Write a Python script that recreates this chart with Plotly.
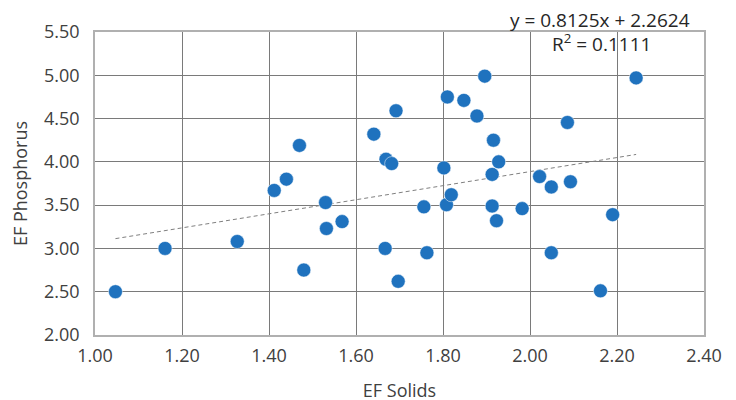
import plotly.graph_objects as go

ef_solids = [1.047, 1.161, 1.327, 1.412, 1.440, 1.470, 1.480, 1.530, 1.532, 1.568,
             1.641, 1.667, 1.669, 1.682, 1.692, 1.697, 1.756, 1.763, 1.802, 1.808,
             1.810, 1.819, 1.848, 1.878, 1.896, 1.913, 1.913, 1.916, 1.923, 1.928,
             1.982, 2.022, 2.049, 2.049, 2.086, 2.093, 2.162, 2.190, 2.244]
ef_phosphorus = [2.50, 3.00, 3.08, 3.67, 3.80, 4.19, 2.75, 3.53, 3.23, 3.31,
                 4.32, 3.00, 4.03, 3.98, 4.59, 2.62, 3.48, 2.95, 3.93, 3.505,
                 4.75, 3.62, 4.71, 4.53, 4.99, 3.855, 3.49, 4.25, 3.32, 4.00,
                 3.46, 3.83, 3.71, 2.95, 4.455, 3.77, 2.51, 3.39, 4.97]

slope = 0.8125
intercept = 2.2624
r_squared = "0.1111"

x_ticks = [1.0, 1.2, 1.4, 1.6, 1.8, 2.0, 2.2, 2.4]
y_ticks = [2.0, 2.5, 3.0, 3.5, 4.0, 4.5, 5.0, 5.5]

trend_x = [min(ef_solids), max(ef_solids)]
trend_y = [slope * v + intercept for v in trend_x]

FONT = "Open Sans"
TXT = "#404040"

fig = go.Figure()
fig.add_trace(go.Scatter(x=trend_x, y=trend_y, mode="lines",
                         line=dict(color="#7f7f7f", width=1, dash="4px,3px"),
                         hoverinfo="skip", showlegend=False))
fig.add_trace(go.Scatter(x=ef_solids, y=ef_phosphorus, mode="markers",
                         marker=dict(size=14, color="#1f72be",
                                     line=dict(color="white", width=0.5)),
                         showlegend=False))

fig.update_layout(
    width=736, height=400,
    margin=dict(l=87, r=40, t=24, b=73, autoexpand=False),
    paper_bgcolor="white", plot_bgcolor="white",
    font=dict(family=FONT, size=19, color=TXT),
    xaxis=dict(range=[1.0, 2.4], tickvals=x_ticks,
               ticktext=[f"{v:.2f}" for v in x_ticks],
               showgrid=True, gridcolor="#7a7a7a", gridwidth=1,
               showline=True, linecolor="#b0b0b0", linewidth=1.5, mirror=True,
               zeroline=False, ticks="", ticklabelstandoff=4,
               title=dict(text="EF Solids", font=dict(size=18, color=TXT), standoff=18),
               automargin=False, tickfont=dict(size=18, color=TXT)),
    yaxis=dict(range=[2.0, 5.5], tickvals=y_ticks,
               ticktext=[f"{v:.2f}" for v in y_ticks],
               showgrid=True, gridcolor="#7a7a7a", gridwidth=1,
               showline=True, linecolor="#b0b0b0", linewidth=1.5, mirror=True,
               zeroline=False, ticks="", ticklabelstandoff=10,
               title=dict(text="EF Phosphorus", font=dict(size=18, color=TXT), standoff=12),
               automargin=False, tickfont=dict(size=18, color=TXT)),
    annotations=[
        dict(text=f"y = {slope}x + {intercept}", xref="paper", yref="paper",
             x=0.98, y=1.04, xanchor="right", yanchor="middle", showarrow=False,
             font=dict(size=19, color="#262626", family=FONT)),
        dict(text=f"R<sup>2</sup> = {r_squared}", xref="paper", yref="paper",
             x=0.831, y=0.965, xanchor="center", yanchor="middle", showarrow=False,
             font=dict(size=19, color="#262626", family=FONT)),
    ],
)

fig.write_html("out.html")
